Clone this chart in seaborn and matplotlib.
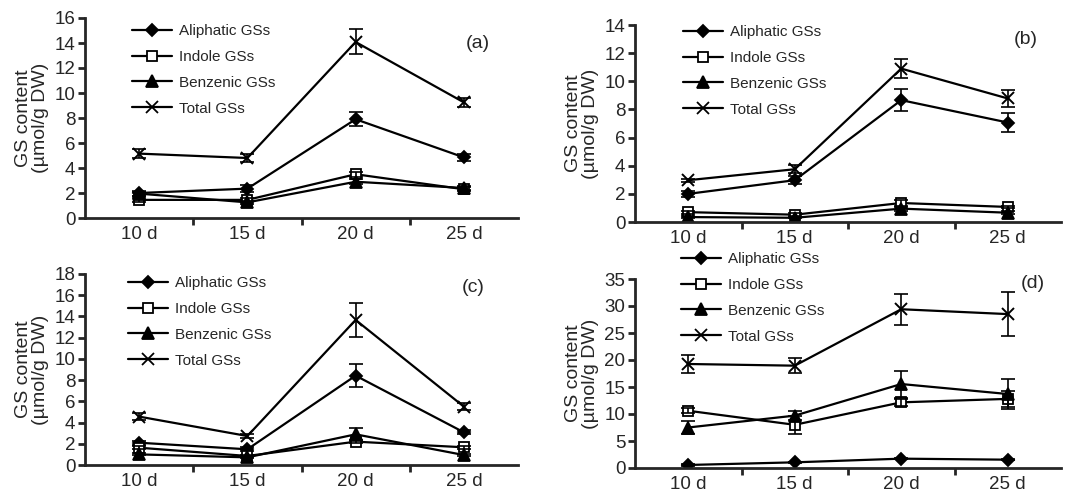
import matplotlib
matplotlib.use("Agg")
import matplotlib.pyplot as plt
import seaborn as sns
import pandas as pd
import numpy as np

sns.set_style("ticks")
plt.rcParams['font.family'] = ['Liberation Sans', 'DejaVu Sans']

days = ["10 d", "15 d", "20 d", "25 d"]
series_names = ["Aliphatic GSs", "Indole GSs", "Benzenic GSs", "Total GSs"]

# panel (a)
a_aliph = [2.0, 2.35, 7.9, 4.85]
a_aliph_err = [0.2, 0.3, 0.55, 0.3]
a_indole = [1.45, 1.45, 3.5, 2.3]
a_indole_err = [0.15, 0.15, 0.2, 0.15]
a_benz = [1.95, 1.25, 2.9, 2.4]
a_benz_err = [0.15, 0.15, 0.2, 0.15]
a_total = [5.15, 4.8, 14.08, 9.25]
a_total_err = [0.35, 0.35, 1.0, 0.35]

# panel (b)
b_aliph = [2.0, 2.97, 8.66, 7.07]
b_aliph_err = [0.2, 0.3, 0.76, 0.7]
b_indole = [0.7, 0.52, 1.35, 1.07]
b_indole_err = [0.1, 0.1, 0.2, 0.1]
b_benz = [0.35, 0.3, 0.95, 0.66]
b_benz_err = [0.05, 0.05, 0.15, 0.1]
b_total = [2.97, 3.75, 10.9, 8.78]
b_total_err = [0.1, 0.3, 0.65, 0.6]

# panel (c)
c_aliph = [2.1, 1.48, 8.42, 3.08]
c_aliph_err = [0.2, 0.2, 1.1, 0.2]
c_indole = [1.63, 0.85, 2.2, 1.67]
c_indole_err = [0.15, 0.1, 0.15, 0.15]
c_benz = [1.0, 0.72, 2.89, 0.94]
c_benz_err = [0.1, 0.1, 0.6, 0.1]
c_total = [4.56, 2.73, 13.67, 5.5]
c_total_err = [0.35, 0.2, 1.6, 0.3]

# panel (d)
d_aliph = [0.56, 1.05, 1.73, 1.54]
d_aliph_err = [0.1, 0.1, 0.15, 0.15]
d_indole = [10.6, 8.0, 12.16, 12.8]
d_indole_err = [0.5, 1.7, 0.6, 1.5]
d_benz = [7.5, 9.7, 15.55, 13.7]
d_benz_err = [1.2, 0.9, 2.5, 2.8]
d_total = [19.26, 18.95, 29.4, 28.5]
d_total_err = [1.6, 1.4, 2.9, 4.1]

panels = [
    ("(a)", [a_aliph, a_indole, a_benz, a_total], [a_aliph_err, a_indole_err, a_benz_err, a_total_err], 16, 2),
    ("(b)", [b_aliph, b_indole, b_benz, b_total], [b_aliph_err, b_indole_err, b_benz_err, b_total_err], 14, 2),
    ("(c)", [c_aliph, c_indole, c_benz, c_total], [c_aliph_err, c_indole_err, c_benz_err, c_total_err], 18, 2),
    ("(d)", [d_aliph, d_indole, d_benz, d_total], [d_aliph_err, d_indole_err, d_benz_err, d_total_err], 35, 5),
]

markers = {"Aliphatic GSs": "D", "Indole GSs": "s", "Benzenic GSs": "^", "Total GSs": "x"}
msizes = {"Aliphatic GSs": 6.5, "Indole GSs": 7, "Benzenic GSs": 8, "Total GSs": 9}
mfc = {"Aliphatic GSs": "black", "Indole GSs": "white", "Benzenic GSs": "black", "Total GSs": "black"}

W, H = 1087, 494
fig = plt.figure(figsize=(W / 100, H / 100), dpi=100)

# axes rects in pixels: left, right, top, bottom
rects = [(85, 518, 18, 218), (635, 1061, 25, 222), (85, 518, 274, 465), (635, 1061, 279, 468)]
label_pos = [(478, 43), (1026, 40), (473, 288), (1033, 284)]
legend_top = [24, 25, 276, 252]
legend_left = [132, 683, 128, 681]

for i, (lab, vals, errs, ymax, ystep) in enumerate(panels):
    l, r, t, b = rects[i]
    ax = fig.add_axes([l / W, 1 - b / H, (r - l) / W, (b - t) / H])
    rows = []
    for name, v, e in zip(series_names, vals, errs):
        for d, vv, ee in zip(days, v, e):
            rows.append({"day": d, "value": vv, "err": ee, "series": name})
    df = pd.DataFrame(rows)
    handles = []
    for name in series_names:
        sub = df[df["series"] == name]
        sns.lineplot(data=sub, x="day", y="value", ax=ax, color="black", lw=1.6,
                     marker=markers[name], markersize=msizes[name],
                     markerfacecolor=mfc[name], markeredgecolor="black",
                     markeredgewidth=1.3 if name != "Total GSs" else 1.4,
                     sort=False, legend=False)
        ax.errorbar(np.arange(len(days)), sub["value"], yerr=sub["err"], fmt="none",
                    ecolor="black", elinewidth=1.2, capsize=5, capthick=1.2)
        h, = ax.plot([], [], color="black", lw=1.6, marker=markers[name],
                     markersize=msizes[name], markerfacecolor=mfc[name],
                     markeredgecolor="black", markeredgewidth=1.3)
        handles.append(h)
    ax.set_xlim(-0.5, 3.5)
    ax.set_ylim(0, ymax)
    ax.set_yticks(np.arange(0, ymax + 0.01, ystep))
    ax.set_xticks(np.arange(len(days)))
    ax.set_xticklabels(days)
    ax.set_xticks([0.5, 1.5, 2.5], minor=True)
    ax.tick_params(axis="x", which="major", length=0, pad=6, labelsize=13.5)
    ax.tick_params(axis="x", which="minor", length=5, width=2, direction="out")
    ax.tick_params(axis="y", length=5, width=2, pad=2, labelsize=13.5)
    for s in ["top", "right"]:
        ax.spines[s].set_visible(False)
    for s in ["left", "bottom"]:
        ax.spines[s].set_linewidth(2)
    ax.set_xlabel("")
    ax.set_ylabel("GS content\n(µmol/g DW)", fontsize=14, linespacing=1.0, labelpad=4)
    ax.patch.set_alpha(0)
    fig.text(label_pos[i][0] / W, 1 - label_pos[i][1] / H, lab, fontsize=14,
             ha="center", va="center")
    ax.legend(handles, series_names, loc="upper left",
              bbox_to_anchor=(legend_left[i] / W, 1 - legend_top[i] / H),
              bbox_transform=fig.transFigure, frameon=False, fontsize=11,
              handlelength=2.6, handletextpad=0.5, labelspacing=0.78,
              borderaxespad=0, borderpad=0)

fig.savefig("out.png", dpi=100)
